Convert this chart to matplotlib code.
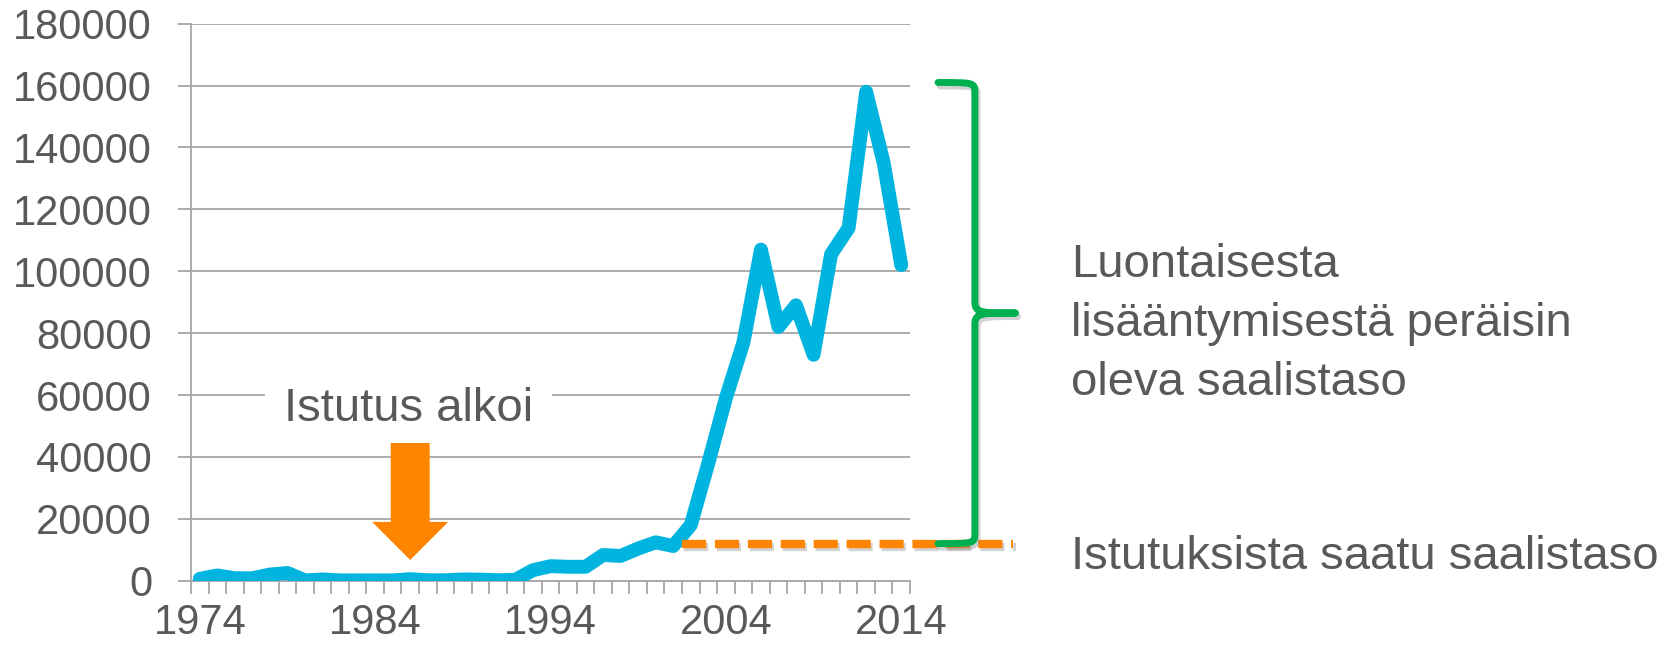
import matplotlib
matplotlib.use('Agg')
import matplotlib.pyplot as plt
import matplotlib.patheffects as pe
from matplotlib.path import Path
from matplotlib.patches import PathPatch, Polygon
import numpy as np

plt.rcParams['font.family'] = ['Liberation Sans', 'DejaVu Sans']

# catch per year
years = list(range(1974, 2015))
catch = [600, 1700, 800, 800, 2000, 2500, 100, 400, 100, 100,
         100, 100, 500, 150, 150, 400, 350, 150, 300, 3400,
         4700, 4500, 4500, 8300, 8000, 10400, 12400, 11200, 18000, 38000,
         59000, 77000, 107000, 82000, 89000, 73000, 105500, 114000, 158000, 135000,
         102000]
tick_years = [1974, 1984, 1994, 2004, 2014]
y_ticks = list(range(0, 180001, 20000))

stocking_start = 1986
stocked_level = 12000
natural_top = 161000
dash_from_year = 2002

label_stocking = 'Istutus alkoi'
label_natural = ['Luontaisesta', 'lisääntymisestä peräisin', 'oleva saalistaso']
label_stocked = 'Istutuksista saatu saalistaso'

TEXT = '#595959'
GRID = '#a6a6a6'
BLUE = '#00b4e0'
ORANGE = '#ff8400'
GREEN = '#00b050'

W, H = 1680, 649
fig = plt.figure(figsize=(W / 100, H / 100), dpi=100)
ax = fig.add_axes([191 / W, 1 - 580.7 / H, 719 / W, 557 / H])

# categories sit between the tick marks
x = np.arange(len(years)) + 0.5
ax.plot(x, catch, color=BLUE, lw=10, solid_capstyle='round',
        solid_joinstyle='round', zorder=3)

ax.set_xlim(0, len(years))
ax.set_ylim(0, 180000)
ax.set_yticks(y_ticks)
ax.set_yticklabels([str(v) for v in y_ticks])
ax.set_xticks([years.index(y) + 0.5 for y in tick_years])
ax.set_xticklabels([str(y) for y in tick_years])
ax.set_xticks(np.arange(len(years) + 1), minor=True)

ax.tick_params(axis='y', length=9.4, width=1.3, color=GRID, pad=18.6,
               labelsize=30, labelcolor=TEXT)
ax.tick_params(axis='x', which='major', length=0, pad=16,
               labelsize=30, labelcolor=TEXT)
ax.tick_params(axis='x', which='minor', length=9.4, width=1.3, color=GRID)

ax.yaxis.grid(True, color=GRID, lw=1.3)
ax.set_axisbelow(True)
for s in ['top', 'right']:
    ax.spines[s].set_visible(False)
for s in ['left', 'bottom']:
    ax.spines[s].set_color(GRID)
    ax.spines[s].set_linewidth(1.3)

# "Istutus alkoi" with white box cutting the gridline
xs = years.index(stocking_start) + 0.5
ax.text(xs - 0.1, 51600, label_stocking, ha='center', va='baseline',
        fontsize=34, color=TEXT, zorder=4,
        bbox=dict(boxstyle='square,pad=0.4', fc='white', ec='none'))

# down arrow
shaft, head = 1.11, 2.17
top, base, tip = 44500, 19000, 6700
arrow = Polygon([(xs - shaft, top), (xs + shaft, top), (xs + shaft, base),
                 (xs + head, base), (xs, tip), (xs - head, base),
                 (xs - shaft, base)], closed=True, fc=ORANGE, ec='none', zorder=4)
ax.add_patch(arrow)

shadow = [pe.SimpleLineShadow(offset=(1.5, -2.5), shadow_color='#808080', alpha=0.35),
          pe.Normal()]

# stocked level, dashed
ax.plot([years.index(dash_from_year), 46.9], [stocked_level, stocked_level],
        color=ORANGE, lw=6, linestyle=(0, (2.9, 1.05)), dash_capstyle='butt',
        clip_on=False, zorder=5, path_effects=shadow)

# curly bracket for natural reproduction
x0, xv, xn = 42.6, 44.7, 47.0
ym = (natural_top + stocked_level) / 2
r = 3500
verts = [(x0, natural_top), (xv, natural_top), (xv, natural_top), (xv, natural_top - r),
         (xv, ym + r),
         (xv, ym), (xv + 0.4, ym), (xn, ym),
         (xv + 0.4, ym), (xv, ym), (xv, ym - r),
         (xv, stocked_level + r),
         (xv, stocked_level), (xv, stocked_level), (x0, stocked_level)]
codes = [Path.MOVETO, Path.CURVE4, Path.CURVE4, Path.CURVE4,
         Path.LINETO,
         Path.CURVE4, Path.CURVE4, Path.CURVE4,
         Path.CURVE4, Path.CURVE4, Path.CURVE4,
         Path.LINETO,
         Path.CURVE4, Path.CURVE4, Path.CURVE4]
brace = PathPatch(Path(verts, codes), fill=False, ec=GREEN, lw=5,
                  capstyle='round', joinstyle='round', clip_on=False, zorder=5,
                  path_effects=shadow)
ax.add_patch(brace)

# right-hand texts
for line, yb in zip(label_natural, [277, 336, 395]):
    fig.text(1071 / W, 1 - yb / H, line, ha='left', va='baseline',
             fontsize=34, color=TEXT)
fig.text(1071 / W, 1 - 569 / H, label_stocked, ha='left', va='baseline',
         fontsize=34, color=TEXT)

fig.savefig('out.png', dpi=100, facecolor='white')
